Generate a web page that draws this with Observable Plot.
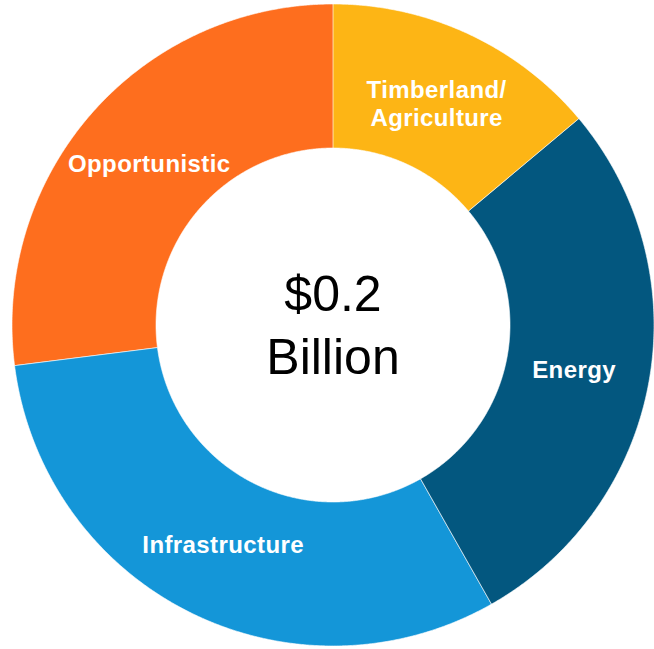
<!DOCTYPE html>
<html>
<head>
<meta charset="utf-8">
<script src="https://cdn.jsdelivr.net/npm/d3@7"></script>
<script src="https://cdn.jsdelivr.net/npm/@observablehq/plot@0.6"></script>
<style>
  body { margin: 0; background: #fff; }
  #chart svg { display: block; }
  #chart .slice-label text { letter-spacing: 0.4px; }
</style>
</head>
<body>
<div id="chart"></div>
<script>
// ---- Data ----
const categories = ["Timberland/\nAgriculture", "Energy", "Infrastructure", "Opportunistic"];
const shares = [13.9, 27.9, 31.2, 27.0];
const colors = ["#FDB515", "#03577F", "#1496D8", "#FE6E1E"];
const centerLines = ["$0.2", "Billion"];

// ---- Geometry (unit-circle data space) ----
const W = 654, H = 649;
const cx = 332.5, cy = 324.5, R = 321;
const innerR = 177 / R;
const labelR = 245 / R;

const arcs = d3.pie().sort(null).value(d => d)(shares);
const ringPoints = [];
const labels = [];
arcs.forEach((a, i) => {
  const key = categories[i];
  const n = Math.max(2, Math.ceil((a.endAngle - a.startAngle) / 0.005));
  for (let k = 0; k <= n; k++) {
    const t = a.startAngle + (a.endAngle - a.startAngle) * k / n;
    ringPoints.push({key, x: Math.sin(t), y: Math.cos(t)});
  }
  for (let k = n; k >= 0; k--) {
    const t = a.startAngle + (a.endAngle - a.startAngle) * k / n;
    ringPoints.push({key, x: innerR * Math.sin(t), y: innerR * Math.cos(t)});
  }
  const m = (a.startAngle + a.endAngle) / 2;
  labels.push({key, x: labelR * Math.sin(m), y: labelR * Math.cos(m)});
});

const chart = Plot.plot({
  width: W,
  height: H,
  margin: 0,
  style: {background: "#fff"},
  x: {domain: [-cx / R, (W - cx) / R], axis: null},
  y: {domain: [-(H - cy) / R, cy / R], axis: null},
  color: {domain: categories, range: colors},
  marks: [
    Plot.line(ringPoints, {
      x: "x", y: "y", z: "key", fill: "key",
      stroke: "white", strokeWidth: 0.75, strokeOpacity: 0.8,
      curve: "linear-closed"
    }),
    Plot.text(labels, {
      x: "x", y: "y", text: "key",
      fill: "white",
      fontFamily: "Liberation Sans, Arial, sans-serif",
      fontWeight: "bold",
      fontSize: 24,
      lineHeight: 1.19,
      className: "slice-label"
    }),
    Plot.text([centerLines.join("\n")], {
      x: () => 0, y: () => 0, text: d => d,
      fill: "black",
      fontFamily: "Liberation Sans, Arial, sans-serif",
      fontSize: 50,
      lineHeight: 1.26,
      dy: -3
    })
  ]
});
document.getElementById("chart").appendChild(chart);
</script>
</body>
</html>
